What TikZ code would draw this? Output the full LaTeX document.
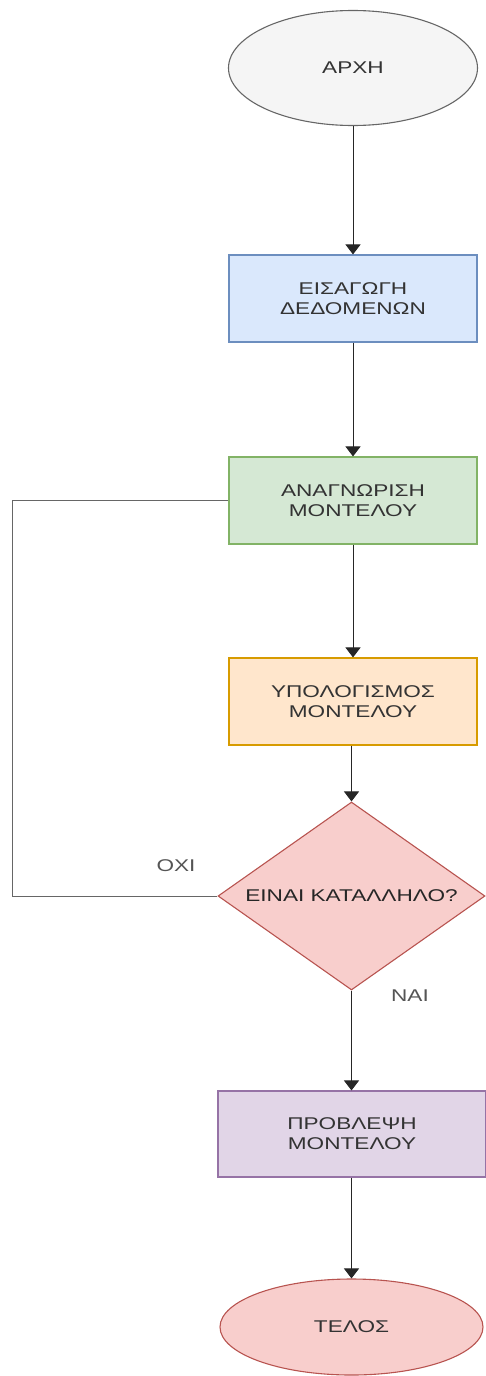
\documentclass[tikz,border=0pt]{standalone}
\usepackage{fontspec}
\setmainfont{Liberation Sans}[FakeStretch=1.33]
\usetikzlibrary{shapes.geometric,arrows.meta}

\definecolor{txt}{HTML}{333333}
\definecolor{lbl}{HTML}{555555}
\definecolor{blueF}{HTML}{DAE8FC}\definecolor{blueD}{HTML}{6C8EBF}
\definecolor{greenF}{HTML}{D5E8D4}\definecolor{greenD}{HTML}{82B366}
\definecolor{orangeF}{HTML}{FFE6CC}\definecolor{orangeD}{HTML}{D79B00}
\definecolor{redF}{HTML}{F8CECC}\definecolor{redD}{HTML}{B85450}
\definecolor{purpleF}{HTML}{E1D5E7}\definecolor{purpleD}{HTML}{9673A6}
\definecolor{greyF}{HTML}{F5F5F5}\definecolor{greyD}{HTML}{666666}

\tikzset{
  x=1pt, y=-1pt,
  every node/.style={font=\fontsize{17}{20}\selectfont, text=txt, align=center, inner sep=0pt},
  terminal/.style={ellipse, draw, line width=1.1pt},
  stepbox/.style={rectangle, draw, line width=1.1pt, minimum width=248pt, minimum height=87pt},
  decision/.style={diamond, draw, line width=1.1pt, minimum width=267pt, minimum height=188pt},
  flow/.style={draw=black!85, line width=1pt, -{Triangle[width=15pt,length=10pt]}},
  back/.style={draw=black!60, line width=1pt},
  branch/.style={text=lbl}
}

\begin{document}
\begin{tikzpicture}
\useasboundingbox (0,0) rectangle (485,1376);

% process chain
\node[terminal, fill=greyF, draw=greyD, minimum width=249pt, minimum height=115pt] (start) at (353,68) {ΑΡΧΗ};
\node[stepbox, fill=blueF, draw=blueD] (input) at (353,298.5) {ΕΙΣΑΓΩΓΗ\\ΔΕΔΟΜΕΝΩΝ};
\node[stepbox, fill=greenF, draw=greenD] (ident) at (353,500.5) {ΑΝΑΓΝΩΡΙΣΗ\\ΜΟΝΤΕΛΟΥ};
\node[stepbox, fill=orangeF, draw=orangeD] (calc) at (353,701.5) {ΥΠΟΛΟΓΙΣΜΟΣ\\ΜΟΝΤΕΛΟΥ};
\node[decision, fill=redF, draw=redD, label={[text=black!85]center:ΕΙΝΑΙ ΚΑΤΑΛΛΗΛΟ?}] (check) at (351.5,896) {};
\node[stepbox, fill=purpleF, draw=purpleD, minimum width=268pt, minimum height=86pt] (pred) at (352,1134) {ΠΡΟΒΛΕΨΗ\\ΜΟΝΤΕΛΟΥ};
\node[terminal, fill=redF, draw=redD, minimum width=263pt, minimum height=96pt] (stop) at (351.5,1327) {ΤΕΛΟΣ};

% connectors
\draw[flow] (start.south -| input.north) -- (input.north);
\draw[flow] (input) -- (ident);
\draw[flow] (ident) -- (calc);
\draw[flow] (calc.south -| check.north) -- (check.north);
\draw[flow] (check.south) -- (check.south |- pred.north);
\draw[flow] (pred.south -| stop.north) -- (stop.north);

% loop back when the model is not suitable
\coordinate (rail) at (12,0);
\draw[back] (check.west) -- (check.west -| rail) -- (ident.west -| rail) -- (ident.west);

% branch labels
\node[branch] (no) at (176,866) {ΟΧΙ};
\node[branch] (yes) at (410,996) {ΝΑΙ};
\end{tikzpicture}
\end{document}
